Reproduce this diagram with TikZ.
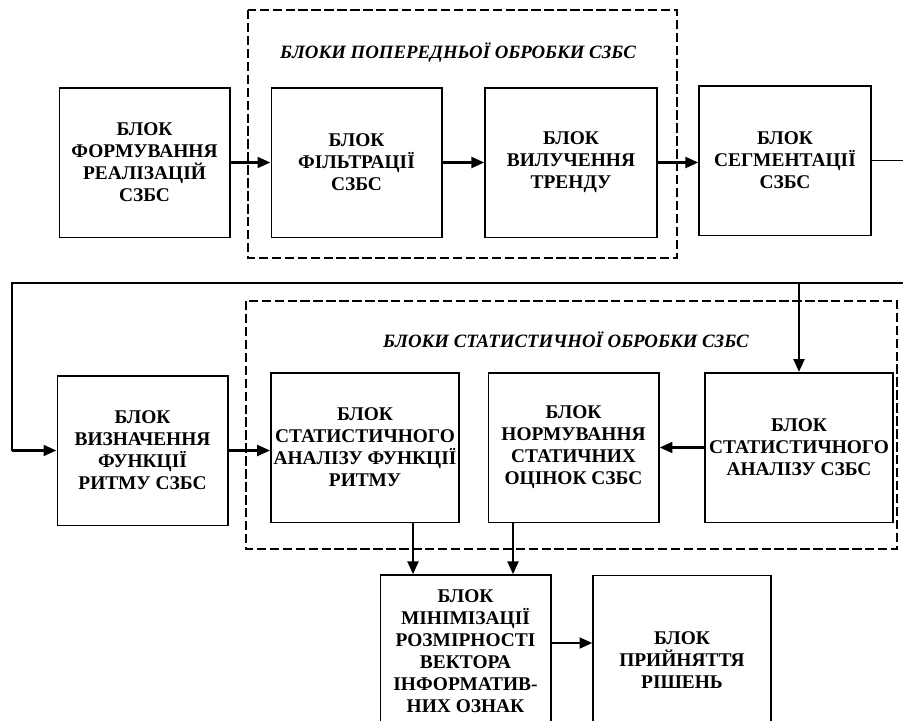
\documentclass[tikz,border=0pt]{standalone}
\usepackage{fontspec}
\setmainfont{Liberation Serif}
\usetikzlibrary{arrows.meta}

\tikzset{
	blk/.style 2 args={draw, line width=1.2pt, minimum width=#1, minimum height=#2, inner sep=0pt, align=center, font=\bfseries\fontsize{16.5}{18.7}\selectfont},
	ttl/.style={inner sep=0pt, font=\bfseries\itshape\fontsize{16}{18}\selectfont},
	grp/.style={line width=2pt, dash pattern=on 8pt off 3pt},
	wire/.style={line width=1.3pt},
	arr/.style={line width=2.5pt, -{Triangle[length=11pt,width=9pt]}}
}

\begin{document}
\begin{tikzpicture}[x=0.85pt, y=-0.85pt]
	\useasboundingbox (0,0) rectangle (903,720);

	\draw[grp] (248,10) rectangle (677,258);
	\draw[grp] (246,301) rectangle (897,549);
	\node[ttl] (ttlpre) at (458,53) {БЛОКИ ПОПЕРЕДНЬОЇ ОБРОБКИ СЗБС};
	\node[ttl] (ttlstat) at (566,340) {БЛОКИ СТАТИСТИЧНОЇ ОБРОБКИ СЗБС};

	\node[blk={145pt}{127pt}] (form) at (144.5,162.5) {БЛОК\\ФОРМУВАННЯ\\РЕАЛІЗАЦІЙ\\СЗБС};
	\node[blk={145pt}{127pt}] (filt) at (356.5,162.5) {БЛОК\\ФІЛЬТРАЦІЇ\\СЗБС};
	\node[blk={146pt}{127pt}] (trend) at (571,162.5) {БЛОК\\ВИЛУЧЕННЯ\\ТРЕНДУ};
	\node[blk={146pt}{127pt}] (segm) at (785,160.5) {БЛОК\\СЕГМЕНТАЦІЇ\\СЗБС};

	\node[blk={145pt}{127pt}] (rhythm) at (142.5,450.5) {БЛОК\\ВИЗНАЧЕННЯ\\ФУНКЦІЇ\\РИТМУ СЗБС};
	\node[blk={160pt}{127pt}] (statf) at (365,447.5) {БЛОК\\СТАТИСТИЧНОГО\\АНАЛІЗУ ФУНКЦІЇ\\РИТМУ};
	\node[blk={145pt}{127pt}] (norm) at (573.5,447.5) {БЛОК\\НОРМУВАННЯ\\СТАТИЧНИХ\\ОЦІНОК СЗБС};
	\node[blk={160pt}{127pt}] (stats) at (799,447.5) {БЛОК\\СТАТИСТИЧНОГО\\АНАЛІЗУ СЗБС};

	\node[blk={145pt}{129pt}] (minim) at (465.5,651) {БЛОК\\МІНІМІЗАЦІЇ\\РОЗМІРНОСТІ\\ВЕКТОРА\\ІНФОРМАТИВ-\\НИХ ОЗНАК};
	\node[blk={151pt}{144pt}] (decis) at (682,660) {БЛОК\\ПРИЙНЯТТЯ\\РІШЕНЬ};

	\coordinate (outR) at (905,160.5);
	\coordinate (inR) at (905,283);
	\coordinate (loopL) at (12,283);

	\draw[arr] (form.east) -- (filt.west);
	\draw[arr] (filt.east) -- (trend.west);
	\draw[arr] (trend.east) -- (segm.west |- trend.east);
	\draw[wire] (segm.east) -- (outR);
	\draw[wire] (inR) -- (loopL) -- (loopL |- rhythm.west);
	\draw[arr] (loopL |- rhythm.west) -- (rhythm.west);
	\draw[arr] (stats.north |- inR) -- (stats.north);
	\draw[arr] (rhythm.east) -- (statf.west |- rhythm.east);
	\draw[arr] (stats.west) -- (norm.east);
	\draw[arr] (413,0 |- statf.south) -- (413,0 |- minim.north);
	\draw[arr] (513,0 |- norm.south) -- (513,0 |- minim.north);
	\draw[arr] (minim.east |- 0,643) -- (decis.west |- 0,643);
\end{tikzpicture}
\end{document}
